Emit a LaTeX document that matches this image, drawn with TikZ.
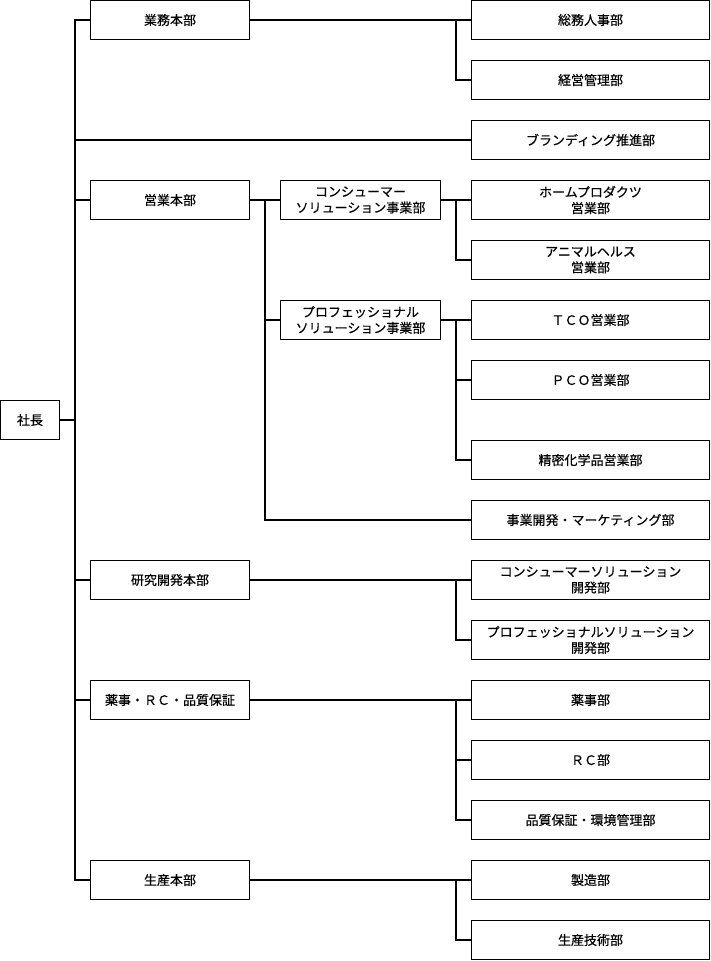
\documentclass[tikz,border=0pt]{standalone}
\usepackage{fontspec}
\setmainfont{Noto Sans CJK JP}[FakeBold=0.4]
\usetikzlibrary{calc}
\tikzset{
  box/.style={draw,inner sep=0pt,minimum height=39pt,align=center,font=\fontsize{13}{16}\selectfont},
  topbox/.style={box,minimum width=59pt},
  honbu/.style={box,minimum width=159pt},
  jigyo/.style={box,minimum width=160pt},
  bu/.style={box,minimum width=238pt}
}
\begin{document}
\begin{tikzpicture}[x=1pt,y=-1pt,line width=1.2pt]
            \useasboundingbox (0,0) rectangle (710,961);
            \node[topbox] (shacho) at (30,420) {社長};
            \node[honbu] (gyomu) at (170,20) {業務本部};
            \node[honbu] (eigyo) at (170,200) {営業本部};
            \node[honbu] (kenkyu) at (170,580) {研究開発本部};
            \node[honbu] (yakuji) at (170,700) {薬事・ＲＣ・品質保証};
            \node[honbu] (seisan) at (170,880) {生産本部};
            \node[jigyo] (consumer) at (360.5,200) {コンシューマー\\ソリューション事業部};
            \node[jigyo] (pro) at (360.5,320) {プロフェッショナル\\ソリューション事業部};
            \node[bu] (soumu) at (590.5,20) {総務人事部};
            \node[bu] (keiei) at (590.5,80) {経営管理部};
            \node[bu] (branding) at (590.5,140) {ブランディング推進部};
            \node[bu] (home) at (590.5,200) {ホームプロダクツ\\営業部};
            \node[bu] (animal) at (590.5,260) {アニマルヘルス\\営業部};
            \node[bu] (tco) at (590.5,320) {ＴＣＯ営業部};
            \node[bu] (pco) at (590.5,380) {ＰＣＯ営業部};
            \node[bu] (seimitsu) at (590.5,460) {精密化学品営業部};
            \node[bu] (marketing) at (590.5,520) {事業開発・マーケティング部};
            \node[bu] (kcs) at (590.5,580) {コンシューマーソリューション\\開発部};
            \node[bu] (kps) at (590.5,640) {プロフェッショナルソリューション\\開発部};
            \node[bu] (yakujibu) at (590.5,700) {薬事部};
            \node[bu] (rc) at (590.5,760) {ＲＣ部};
            \node[bu] (hinshitsu) at (590.5,820) {品質保証・環境管理部};
            \node[bu] (seizo) at (590.5,880) {製造部};
            \node[bu] (gijutsu) at (590.5,940) {生産技術部};
            \coordinate (trunk) at (75,0);
            \coordinate (jr) at (456,0);
            \coordinate (je) at (265,200);
            \draw (gyomu.west) -| (trunk |- seisan.west) -- (seisan.west);
            \draw (shacho.east) -- (shacho.east -| trunk);
            \draw (eigyo.west) -- (eigyo.west -| trunk);
            \draw (kenkyu.west) -- (kenkyu.west -| trunk);
            \draw (yakuji.west) -- (yakuji.west -| trunk);
            \draw (branding.west) -- (branding.west -| trunk);
            \draw (gyomu.east) -- (soumu.west);
            \draw (gyomu.east -| jr) |- (keiei.west);
            \draw (eigyo.east) -- (consumer.west);
            \draw (je) |- (marketing.west);
            \draw (je |- pro.west) -- (pro.west);
            \draw (consumer.east) -- (home.west);
            \draw (consumer.east -| jr) |- (animal.west);
            \draw (pro.east) -- (tco.west);
            \draw (pro.east -| jr) |- (pco.west);
            \draw (pro.east -| jr) |- (seimitsu.west);
            \draw (kenkyu.east) -- (kcs.west);
            \draw (kenkyu.east -| jr) |- (kps.west);
            \draw (yakuji.east) -- (yakujibu.west);
            \draw (yakuji.east -| jr) |- (rc.west);
            \draw (yakuji.east -| jr) |- (hinshitsu.west);
            \draw (seisan.east) -- (seizo.west);
            \draw (seisan.east -| jr) |- (gijutsu.west);
\end{tikzpicture}
\end{document}
